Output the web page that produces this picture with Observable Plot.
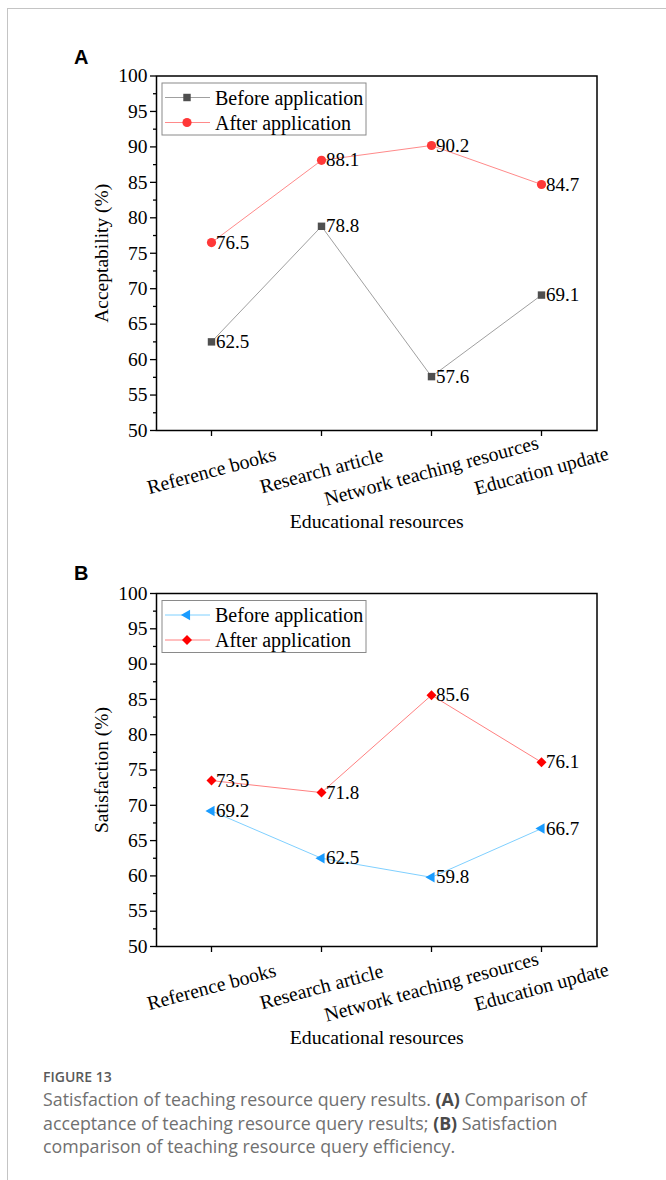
<!DOCTYPE html>
<html>
<head>
<meta charset="utf-8">
<script src="https://cdn.jsdelivr.net/npm/d3@7"></script>
<script src="https://cdn.jsdelivr.net/npm/@observablehq/plot@0.6"></script>
<style>
  body { margin: 0; background: #fff; }
  #page { position: relative; width: 666px; height: 1180px; overflow: hidden; background: #fff; }
  #border { position: absolute; left: 7px; top: 8px; width: 700px; height: 1200px;
            border-left: 1.5px solid #c4c4c4; border-top: 1.5px solid #c4c4c4; }
  .panel { position: absolute; left: 0; }
  .plab { position: absolute; font-family: "Liberation Sans", Arial, sans-serif; font-weight: bold; font-size: 20px; line-height: 1; }
  #figno { position: absolute; left: 43px; top: 1067px; font-family: "Open Sans", sans-serif; font-weight: 600;
           font-size: 14px; color: #5a5a5a; line-height: 20px; }
  #cap { position: absolute; left: 43px; top: 1088px; font-family: "Open Sans", sans-serif; font-size: 17.8px;
         color: #707070; line-height: 23.5px; white-space: nowrap; }
  #cap b { color: #4a4a4a; font-weight: 700; }
</style>
</head>
<body>
<div id="page">
  <div id="border"></div>
  <div id="panelA" class="panel" style="top:0px"></div>
  <div id="panelB" class="panel" style="top:545px"></div>
  <div class="plab" style="left:74px;top:47px">A</div>
  <div class="plab" style="left:74px;top:563px">B</div>
  <div id="figno">FIGURE 13</div>
  <div id="cap">Satisfaction of teaching resource query results. <b>(A)</b> Comparison of<br>acceptance of teaching resource query results; <b>(B)</b> Satisfaction<br>comparison of teaching resource query efficiency.</div>
</div>
<script>
// ---- data ----
const categories = ["Reference books", "Research article", "Network teaching resources", "Education update"];
const seriesNames = ["Before application", "After application"];
const acceptBefore = [62.5, 78.8, 57.6, 69.1];
const acceptAfter = [76.5, 88.1, 90.2, 84.7];
const satisBefore = [69.2, 62.5, 59.8, 66.7];
const satisAfter = [73.5, 71.8, 85.6, 76.1];
const yTicks = [50, 55, 60, 65, 70, 75, 80, 85, 90, 95, 100];
const yMinor = [52.5, 57.5, 62.5, 67.5, 72.5, 77.5, 82.5, 87.5, 92.5, 97.5];
const xTitle = "Educational resources";

// left-pointing triangle symbol
const triLeft = {
  draw(ctx, size) {
    const s = Math.sqrt(size * 4 / Math.sqrt(3));
    const h = s * Math.sqrt(3) / 2;
    ctx.moveTo(-2 * h / 3, 0);
    ctx.lineTo(h / 3, -s / 2);
    ctx.lineTo(h / 3, s / 2);
    ctx.closePath();
  }
};
const symbolMap = {square: d3.symbolSquare, circle: d3.symbolCircle, diamond2: d3.symbolDiamond2};
const toD3Symbol = (s) => typeof s === "string" ? symbolMap[s] : s;

function makePanel({before, after, ylabel, styles, height, marginTop, marginBottom}) {
  const rows = (vals, s) => categories.map((c, i) => ({cat: c, v: vals[i], s}));
  const series = [rows(before, seriesNames[0]), rows(after, seriesNames[1])];

  const legend = (index, scales, values, dims) => {
    const g = d3.create("svg:g");
    const x0 = dims.marginLeft + 6, y0 = dims.marginTop + 7.5;
    g.append("rect").attr("x", x0).attr("y", y0).attr("width", 204).attr("height", 52)
      .attr("fill", "white").attr("stroke", "#8a8a8a").attr("stroke-width", 1);
    styles.forEach((st, k) => {
      const cy = y0 + 14.5 + k * 25;
      g.append("line").attr("x1", x0 + 3).attr("x2", x0 + 48).attr("y1", cy).attr("y2", cy)
        .attr("stroke", st.line).attr("stroke-width", 1);
      g.append("path").attr("d", d3.symbol(toD3Symbol(st.symbol), Math.PI * st.r * st.r)())
        .attr("transform", `translate(${x0 + 25},${cy})`).attr("fill", st.fill);
      g.append("text").attr("x", x0 + 53).attr("y", cy).attr("dy", "0.35em")
        .attr("text-anchor", "start").attr("font-size", 20).attr("fill", "#000").text(seriesNames[k]);
    });
    return g.node();
  };

  const marks = [];
  series.forEach((data, k) => {
    const st = styles[k];
    marks.push(Plot.line(data, {x: "cat", y: "v", stroke: st.line, strokeWidth: 1}));
    marks.push(Plot.dot(data, {x: "cat", y: "v", symbol: st.symbol, r: st.r, fill: st.fill, stroke: "none"}));
    marks.push(Plot.text(data, {x: "cat", y: "v", text: d => d.v.toFixed(1), textAnchor: "start", dx: 4.5, fontSize: 19, fill: "#000"}));
  });

  return Plot.plot({
    width: 666,
    height,
    marginLeft: 156,
    marginRight: 69.5,
    marginTop,
    marginBottom,
    style: {fontFamily: "'Liberation Serif', 'Times New Roman', serif", background: "transparent", color: "#000"},
    x: {type: "point", domain: categories, padding: 0.5},
    y: {domain: [50, 100]},
    marks: [
      Plot.axisY(yTicks, {tickSize: 6, tickPadding: 3, fontSize: 19.5, strokeWidth: 1.3, label: null}),
      Plot.axisY(yMinor, {tickSize: 3, tickFormat: () => "", strokeWidth: 1.3, label: null}),
      Plot.axisX({tickSize: 6, tickFormat: () => "", strokeWidth: 1.3, label: null}),
      Plot.text(categories, {x: d => d, frameAnchor: "bottom", lineAnchor: "middle", textAnchor: "middle", rotate: -15, dy: 40.5, fontSize: 19.8, fill: "#000"}),
      Plot.text([xTitle], {frameAnchor: "bottom", lineAnchor: "middle", textAnchor: "middle", dy: 91.5, fontSize: 19.8, fill: "#000"}),
      Plot.text([ylabel], {frameAnchor: "left", lineAnchor: "middle", textAnchor: "middle", rotate: -90, dx: -55, fontSize: 19.5, fill: "#000"}),
      ...marks,
      legend,
      Plot.frame({stroke: "#000", strokeWidth: 1.5})
    ]
  });
}

document.getElementById("panelA").append(makePanel({
  before: acceptBefore, after: acceptAfter, ylabel: "Acceptability (%)",
  styles: [
    {line: "#a0a0a0", fill: "#4f4f4f", symbol: "square", r: 4.2},
    {line: "#ff8a8a", fill: "#ff3838", symbol: "circle", r: 4.6}
  ],
  height: 545, marginTop: 75.5, marginBottom: 115
}));

document.getElementById("panelB").append(makePanel({
  before: satisBefore, after: satisAfter, ylabel: "Satisfaction (%)",
  styles: [
    {line: "#7fd0ff", fill: "#1a9cff", symbol: triLeft, r: 3.9},
    {line: "#ff8080", fill: "#ff0000", symbol: "diamond2", r: 4.5}
  ],
  height: 515, marginTop: 48, marginBottom: 114
}));
</script>
</body>
</html>
